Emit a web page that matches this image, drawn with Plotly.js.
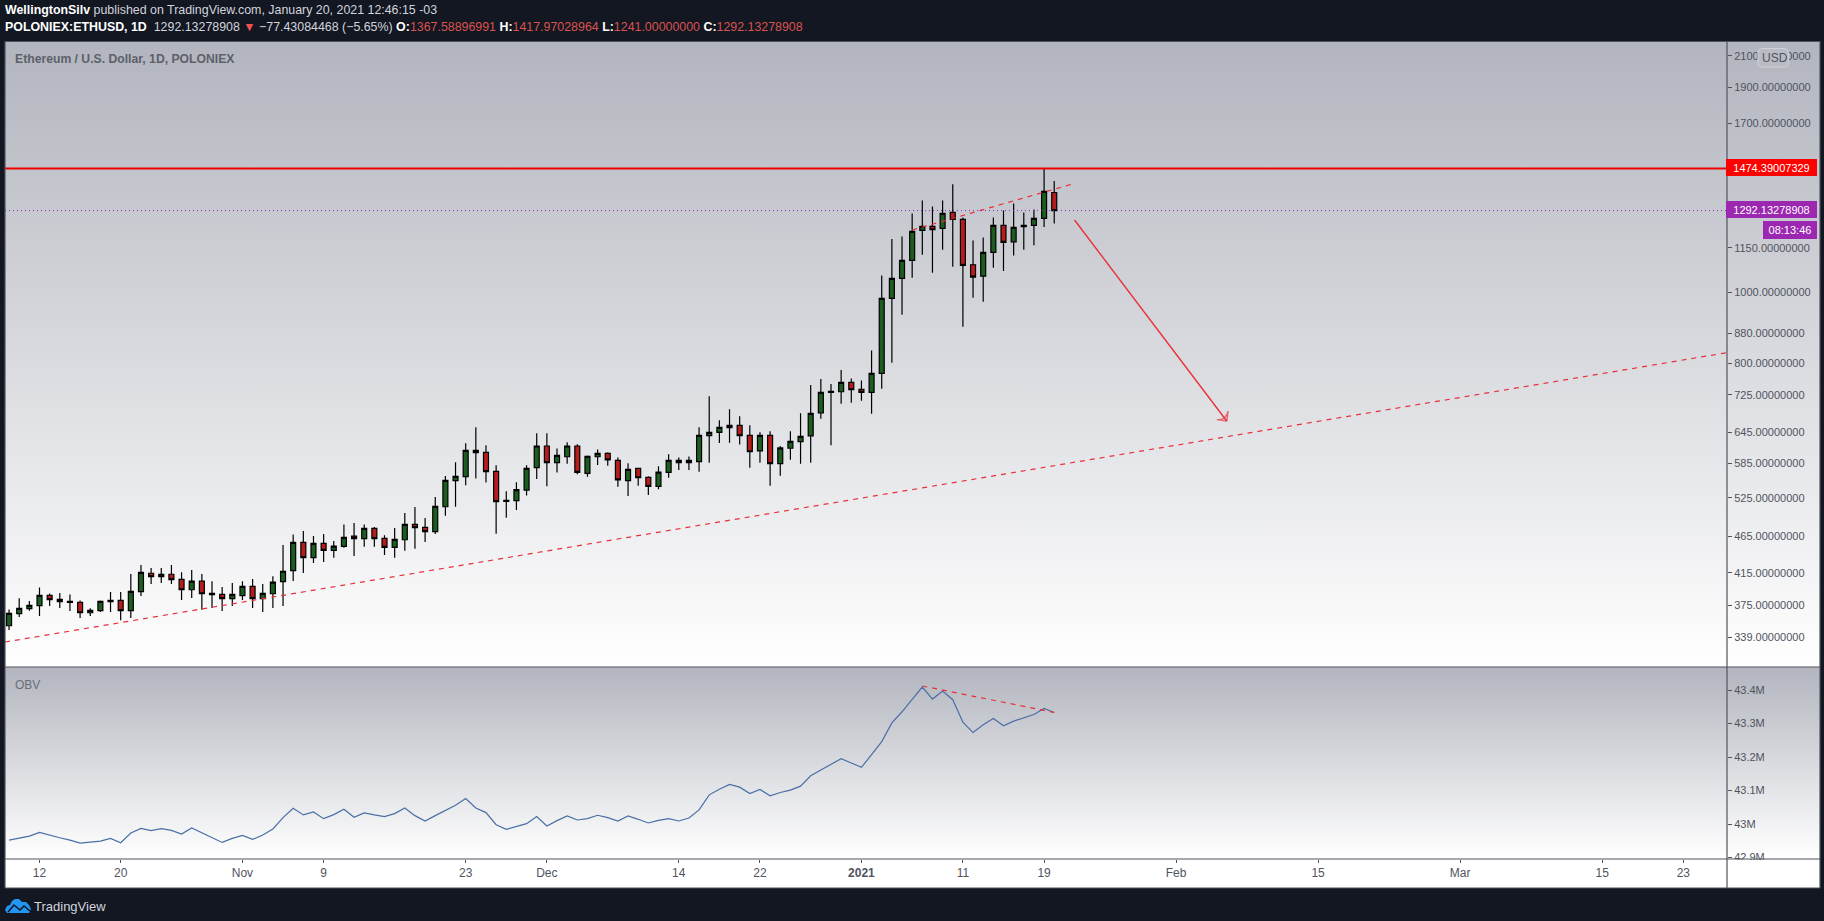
<!DOCTYPE html>
<html><head><meta charset="utf-8">
<script src="https://cdn.plot.ly/plotly-3.0.1.min.js"></script>
<style>
html,body{margin:0;padding:0;background:#131722;overflow:hidden;width:1824px;height:921px}
#frame{position:absolute;left:5px;top:42px;width:1815px;height:846px;background:#fff}
#p1{position:absolute;left:0;top:0;width:100%;height:625px;background:linear-gradient(#b2b5be,#fff)}
#p2{position:absolute;left:0;top:625px;width:100%;height:192px;background:linear-gradient(#b2b5be,#fff)}
#chart{position:absolute;left:0;top:0;width:1824px;height:921px}
</style></head><body>
<div id="frame"><div id="p1"></div><div id="p2"></div></div>
<div id="chart"></div>
<script>
const dates=["2020-10-09","2020-10-10","2020-10-11","2020-10-12","2020-10-13","2020-10-14","2020-10-15","2020-10-16","2020-10-17","2020-10-18","2020-10-19","2020-10-20","2020-10-21","2020-10-22","2020-10-23","2020-10-24","2020-10-25","2020-10-26","2020-10-27","2020-10-28","2020-10-29","2020-10-30","2020-10-31",
"2020-11-01","2020-11-02","2020-11-03","2020-11-04","2020-11-05","2020-11-06","2020-11-07","2020-11-08","2020-11-09","2020-11-10","2020-11-11","2020-11-12","2020-11-13","2020-11-14","2020-11-15","2020-11-16","2020-11-17","2020-11-18","2020-11-19","2020-11-20","2020-11-21","2020-11-22","2020-11-23","2020-11-24","2020-11-25","2020-11-26","2020-11-27","2020-11-28","2020-11-29","2020-11-30",
"2020-12-01","2020-12-02","2020-12-03","2020-12-04","2020-12-05","2020-12-06","2020-12-07","2020-12-08","2020-12-09","2020-12-10","2020-12-11","2020-12-12","2020-12-13","2020-12-14","2020-12-15","2020-12-16","2020-12-17","2020-12-18","2020-12-19","2020-12-20","2020-12-21","2020-12-22","2020-12-23","2020-12-24","2020-12-25","2020-12-26","2020-12-27","2020-12-28","2020-12-29","2020-12-30","2020-12-31",
"2021-01-01","2021-01-02","2021-01-03","2021-01-04","2021-01-05","2021-01-06","2021-01-07","2021-01-08","2021-01-09","2021-01-10","2021-01-11","2021-01-12","2021-01-13","2021-01-14","2021-01-15","2021-01-16","2021-01-17","2021-01-18","2021-01-19","2021-01-20"];
const opens=[351.5,365.0,370.8,374.3,386.6,381.8,378.2,378.2,366.1,368.5,379.0,380.6,368.5,391.1,414.4,410.1,413.1,406.6,393.5,404.2,387.4,387.8,382.6,386.2,397.6,382.6,388.6,403.7,417.8,456.5,435.2,455.1,445.2,450.7,465.7,461.8,477.0,462.3,449.3,460.3,483.0,478.5,472.1,510.5,554.0,561.0,609.3,605.4,570.4,519.2,520.3,537.9,577.0,617.6,586.1,597.1,617.6,566.8,597.1,603.5,590.2,554.0,575.8,559.7,544.2,568.5,590.2,586.1,587.9,637.9,644.6,654.1,658.9,638.6,608.4,638.6,584.3,613.3,626.0,637.7,685.4,730.6,732.1,753.9,737.5,730.6,775.4,981.0,1044.6,1105.1,1214.1,1229.4,1221.8,1284.6,1256.7,1090.2,1051.9,1133.2,1233.3,1171.4,1228.2,1233.3,1260.7,1367.58896991];
const highs=[370.0,383.0,379.8,396.4,389.0,389.4,387.8,380.6,371.2,380.6,390.6,390.6,413.5,425.3,421.3,421.3,425.3,415.7,418.8,413.5,404.2,396.8,402.0,404.2,407.0,400.7,410.5,452.7,468.1,473.0,465.7,468.6,458.4,483.0,485.1,483.0,479.0,466.7,477.5,500.5,510.0,492.7,526.2,562.1,586.7,622.8,654.8,618.9,581.2,535.8,551.1,581.2,642.6,642.6,613.0,624.7,620.9,599.7,610.9,605.4,595.8,584.9,575.8,561.6,579.4,601.7,595.8,597.7,654.8,721.6,669.3,692.8,677.8,658.9,644.6,646.6,617.6,646.6,684.2,747.6,761.8,750.0,783.6,763.4,758.6,833.3,1054.4,1181.6,1191.5,1280.6,1333.9,1309.0,1333.9,1403.9,1264.7,1176.6,1187.8,1264.7,1292.7,1321.4,1284.6,1296.5,1475.0,1417.97028964];
const lows=[346.8,361.2,368.5,362.4,373.9,371.6,368.1,360.1,362.4,367.0,367.0,357.5,360.1,385.8,400.7,402.0,400.7,381.0,383.4,369.6,371.6,368.1,373.9,381.0,371.6,367.0,371.6,373.9,404.6,414.8,428.0,429.3,435.0,448.8,437.5,450.2,450.2,438.9,435.0,444.7,447.5,456.9,468.6,496.4,510.6,546.1,557.7,550.6,469.2,493.3,505.3,529.0,556.9,544.2,568.5,584.3,565.1,561.0,581.8,580.6,543.7,528.0,545.1,529.7,539.3,559.1,572.8,572.8,569.8,586.1,623.4,624.0,620.3,577.0,586.1,545.1,562.7,591.4,584.3,586.0,672.7,619.2,705.1,707.2,711.5,683.3,739.0,801.7,932.0,1046.7,1124.9,1063.3,1142.7,1083.3,897.6,983.1,970.6,1080.2,1069.4,1122.3,1142.7,1158.6,1227.0,1241.0];
const closes=[365.4,371.2,374.7,386.6,381.4,379.0,379.4,366.1,368.9,379.4,380.6,368.5,391.5,415.6,410.1,413.1,406.2,393.5,404.2,388.6,389.0,382.6,387.8,397.6,382.6,389.0,403.0,417.0,456.5,435.2,455.1,445.2,451.1,463.8,461.8,477.0,461.8,449.3,460.8,483.0,478.0,472.1,511.0,554.5,561.6,609.3,604.8,569.8,518.7,520.9,538.5,575.8,617.6,586.1,599.7,617.6,568.5,597.7,603.5,591.4,555.3,574.0,559.1,544.2,569.1,590.2,586.1,590.2,638.6,644.6,654.8,658.9,637.9,606.6,638.6,584.3,613.9,626.6,636.6,684.0,730.6,732.9,753.9,736.7,730.6,775.4,981.0,1044.6,1105.1,1210.3,1229.4,1216.7,1280.6,1256.7,1087.9,1048.8,1133.2,1233.3,1169.3,1226.1,1233.3,1260.7,1372.2,1292.13278908];
const obv=[42.952,42.958,42.964,42.975,42.966,42.959,42.952,42.943,42.946,42.949,42.957,42.944,42.973,42.987,42.980,42.986,42.981,42.970,42.988,42.973,42.959,42.945,42.957,42.966,42.954,42.967,42.985,43.019,43.047,43.027,43.036,43.016,43.028,43.044,43.020,43.033,43.027,43.022,43.031,43.048,43.025,43.009,43.025,43.041,43.056,43.076,43.048,43.034,42.998,42.984,42.993,43.001,43.022,42.994,43.010,43.024,43.012,43.016,43.026,43.019,43.009,43.024,43.014,43.003,43.011,43.016,43.009,43.018,43.042,43.087,43.104,43.118,43.110,43.091,43.103,43.084,43.094,43.101,43.113,43.144,43.161,43.178,43.195,43.182,43.169,43.207,43.246,43.302,43.335,43.372,43.409,43.373,43.397,43.371,43.304,43.273,43.296,43.315,43.293,43.307,43.317,43.327,43.345,43.333];
const priceTicks=[2100,1900,1700,1500,1300,1150,1000,880,800,725,645,585,525,465,415,375,339];
const obvTicks=[43.4,43.3,43.2,43.1,43.0,42.9];
const obvLabels=["43.4M","43.3M","43.2M","43.1M","43M","42.9M"];
const timeTicks=["2020-10-12","2020-10-20","2020-11-01","2020-11-09","2020-11-23","2020-12-01","2020-12-14","2020-12-22","2021-01-01","2021-01-11","2021-01-19","2021-02-01","2021-02-15","2021-03-01","2021-03-15","2021-03-23"];
const timeLabels=["12","20","Nov","9","23","Dec","14","22","<b>2021</b>","11","19","Feb","15","Mar","15","23"];
const resistance=1474.39007329, lastClose=1292.13278908;
const longTrendX=["2020-10-08 14:24","2021-03-27 07:12"], longTrendY=[334.0,827.7];
const shortTrendX=["2021-01-06","2021-01-21 21:36"], shortTrendY=[1215.8,1405.8];
const arrowX=["2021-01-22","2021-02-06"], arrowY=[1254.5,667.9];
const obvTrendX=["2021-01-07","2021-01-20"], obvTrendY=[43.412,43.333];

const FONT='"Liberation Sans",sans-serif';
const GR='#50535e', RED='#e8303a';
const px=x=>(x-5)/1722, py=y=>(859-y)/817;
const rectPath=(x0,y0,x1,y1,r)=>{const X=v=>px(v),Y=v=>py(v);
 return `M${X(x0+r)},${Y(y0)} L${X(x1-r)},${Y(y0)} Q${X(x1)},${Y(y0)} ${X(x1)},${Y(y0+r)} L${X(x1)},${Y(y1-r)} Q${X(x1)},${Y(y1)} ${X(x1-r)},${Y(y1)} L${X(x0+r)},${Y(y1)} Q${X(x0)},${Y(y1)} ${X(x0)},${Y(y1-r)} L${X(x0)},${Y(y0+r)} Q${X(x0)},${Y(y0)} ${X(x0+r)},${Y(y0)} Z`;};
const line=(x0,y0,x1,y1,w)=>({type:'line',xref:'paper',yref:'paper',x0:px(x0),y0:py(y0),x1:px(x1),y1:py(y1),line:{color:GR,width:w||1.2},layer:'above'});
const poly=pts=>'M'+pts.map(p=>px(p[0])+','+py(p[1])).join(' L')+' Z';
const pline=pts=>'M'+pts.map(p=>px(p[0])+','+py(p[1])).join(' L');

const traces=[
{type:'candlestick',x:dates,open:opens,high:highs,low:lows,close:closes,xaxis:'x',yaxis:'y',
 increasing:{line:{color:'#000',width:1.2},fillcolor:'#1b5e20'},
 decreasing:{line:{color:'#000',width:1.2},fillcolor:'#b71c1c'},whiskerwidth:0,hoverinfo:'skip',showlegend:false},
{type:'scatter',mode:'lines',x:longTrendX,y:longTrendY,line:{color:RED,width:1.2,dash:'5px,5px'},yaxis:'y',hoverinfo:'skip',showlegend:false},
{type:'scatter',mode:'lines',x:shortTrendX,y:shortTrendY,line:{color:RED,width:1.2,dash:'5px,5px'},yaxis:'y',hoverinfo:'skip',showlegend:false},
{type:'scatter',mode:'lines+markers',x:arrowX,y:arrowY,line:{color:RED,width:1.4},yaxis:'y',hoverinfo:'skip',showlegend:false,
 marker:{symbol:'arrow-wide-open',angleref:'previous',size:[0,10],color:RED,line:{color:RED,width:1.4}}},
{type:'scatter',mode:'lines',x:dates,y:obv,line:{color:'#4a6fa5',width:1.2},xaxis:'x',yaxis:'y2',hoverinfo:'skip',showlegend:false},
{type:'scatter',mode:'lines',x:obvTrendX,y:obvTrendY,line:{color:RED,width:1.2,dash:'5px,5px'},yaxis:'y2',hoverinfo:'skip',showlegend:false}
];

const hdr=(html,x,y,size,color)=>({xref:'paper',yref:'paper',x:px(x),y:py(y),xanchor:'left',yanchor:'middle',showarrow:false,text:html,align:'left',font:{family:FONT,size:size,color:color}});
const tag=(text,x0,y0,x1,y1,bg)=>({xref:'paper',yref:'paper',x:px(x0),y:py(y0),xanchor:'left',yanchor:'top',showarrow:false,text:text,
 width:x1-x0-2,height:y1-y0-2,bgcolor:bg,borderpad:0,borderwidth:0,align:'center',valign:'middle',font:{family:FONT,size:11,color:'#fff'}});
const rv=s=>`<span style="color:#d9534f">${s}</span>`;

const layout={
 width:1824,height:921,paper_bgcolor:'rgba(0,0,0,0)',plot_bgcolor:'rgba(0,0,0,0)',
 margin:{l:5,r:97,t:42,b:62,pad:0},showlegend:false,
 font:{family:FONT,size:11,color:GR},
 xaxis:{type:'date',domain:[0,1],anchor:'y2',range:["2020-10-08 14:24","2021-03-27 07:12"],rangeslider:{visible:false},
  tickmode:'array',tickvals:timeTicks,ticktext:timeLabels,ticks:'outside',ticklen:3,tickwidth:1,tickcolor:GR,
  showgrid:false,zeroline:false,showline:false,tickfont:{family:FONT,size:12,color:GR}},
 yaxis:{type:'log',domain:[192/817,1],anchor:'x',side:'right',range:[2.48974,3.34089],
  tickmode:'array',tickvals:priceTicks,ticktext:priceTicks.map(v=>v.toFixed(8)),ticks:'outside',ticklen:4,tickwidth:1,tickcolor:GR,
  showgrid:false,zeroline:false,showline:false,tickfont:{family:FONT,size:11,color:GR}},
 yaxis2:{type:'linear',domain:[0,192/817],anchor:'x',side:'right',range:[42.8955,43.4687],
  tickmode:'array',tickvals:obvTicks,ticktext:obvLabels,ticks:'outside',ticklen:4,tickwidth:1,tickcolor:GR,
  showgrid:false,zeroline:false,showline:false,tickfont:{family:FONT,size:11,color:GR}},
 shapes:[
  {type:'line',xref:'paper',yref:'y',x0:0,x1:1,y0:resistance,y1:resistance,line:{color:'#f00000',width:2},layer:'above'},
  {type:'line',xref:'paper',yref:'y',x0:0,x1:1,y0:lastClose,y1:lastClose,line:{color:'#8e24aa',width:1,dash:'1px,3px'},layer:'above'},
  {type:'rect',xref:'paper',yref:'paper',x0:px(1728),x1:px(1819),y0:py(860),y1:py(887),fillcolor:'#fff',line:{width:0},layer:'above'},
  line(5,41.5,1820,41.5),line(5,667,1820,667),line(5,859,1820,859),line(5,888,1820,888),
  line(5,41,5,888),line(1727,41,1727,888),line(1820,41,1820,888),
  {type:'path',xref:'paper',yref:'paper',path:rectPath(1758,48.5,1788.5,67,4),fillcolor:'#b9bcc5',line:{color:'#cfd1d7',width:1},layer:'above'},
  {type:'path',xref:'paper',yref:'paper',fillcolor:'#2196f3',line:{width:0},layer:'above',
   path:poly([[5,910],[7,906],[10,905],[12,901],[15,899],[19,899],[22,902],[26,902],[29,905],[31,909],[29,913],[7,913]])},
  {type:'path',xref:'paper',yref:'paper',line:{color:'#131722',width:1.6},layer:'above',
   path:pline([[8,912],[14,905],[20,910],[24,906],[30,911]])}
 ],
 annotations:[
  hdr('<b>WellingtonSilv</b><span style="color:#d1d4dc"> published on TradingView.com, January 20, 2021 12:46:15 -03</span>',3,10.5,12.4,'#ffffff'),
  hdr('<b>POLONIEX:ETHUSD, 1D</b><span style="color:#d1d4dc">  1292.13278908 </span><span style="color:#ef5350">▼</span><span style="color:#d1d4dc"> −77.43084468 (−5.65%) </span><b>O:</b>'+rv('1367.58896991')+' <b>H:</b>'+rv('1417.97028964')+' <b>L:</b>'+rv('1241.00000000')+' <b>C:</b>'+rv('1292.13278908'),3,27,12.4,'#ffffff'),
  hdr('<b>Ethereum / U.S. Dollar, 1D, POLONIEX</b>',13,58.5,12.2,'#5d606b'),
  hdr('OBV',13,684.5,12,'#6a6d78'),
  hdr('USD',1760,58,12,'#50535e'),
  tag('1474.39007329',1726,159,1819,178,'#ff0000'),
  tag('1292.13278908',1726,201,1819,220,'#9c27b0'),
  tag('08:13:46',1763,220.5,1819,240,'#9c27b0'),
  hdr('TradingView',32,906,13,'#d1d4dc')
 ]
};
Plotly.newPlot('chart',traces,layout,{staticPlot:true,displayModeBar:false});
</script></body></html>
